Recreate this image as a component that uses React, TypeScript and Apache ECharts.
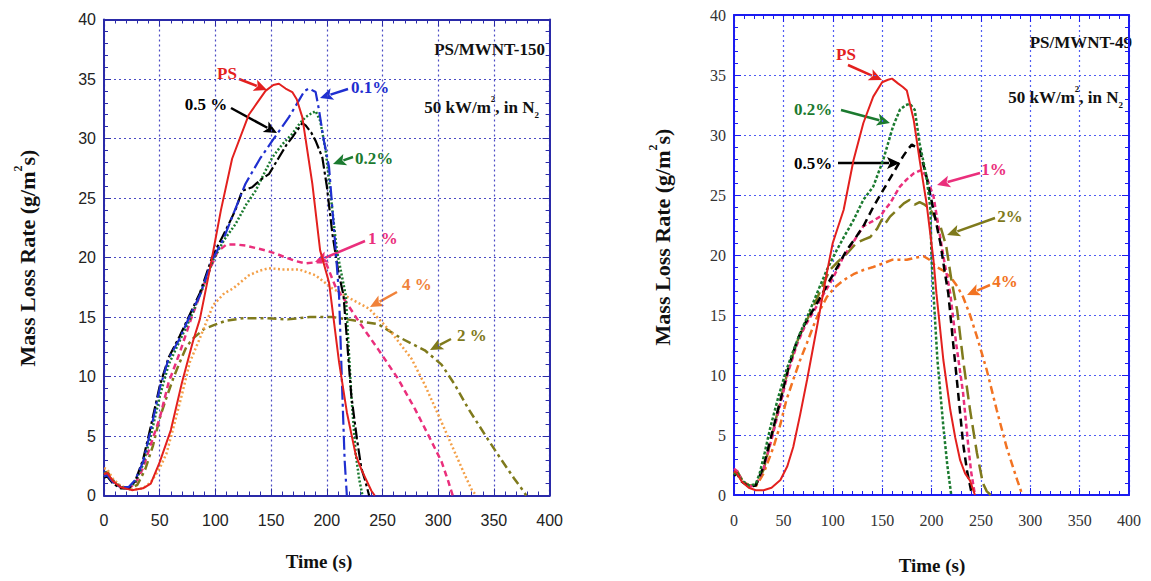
import React, { useEffect, useRef } from "react";
import * as echarts from "echarts";

// ---------- Data: left panel (PS/MWNT-150) ----------
const L_PS = [[0,1.8],[3,1.9],[8,1.2],[15,0.7],[25,0.45],[35,0.6],[42,1.0],[50,2.8],[60,5.5],[70,9.5],[80,13],[86,14.8],[95,19],[105,24],[115,28.3],[130,32],[145,34],[152,34.5],[157,34.6],[163,34.2],[169,33.9],[173,33.3],[178,31.8],[187,26.2],[194,20.6],[202,17.9],[211,11.2],[218,7],[226,3.4],[231,2.2],[235,1.4],[240,0.4],[243,0]];
const L_01 = [[0,1.6],[3,1.7],[8,1.1],[15,0.7],[22,0.7],[28,1.3],[35,2.8],[42,5.5],[50,9],[58,11.5],[68,13.2],[78,15.3],[86,16.8],[97,19.8],[107,21.5],[115,23.4],[127,26.2],[140,28.3],[151,29.8],[160,31],[166,31.8],[175,33.2],[180,34],[184,34.2],[190,33.9],[193,32.4],[197,30],[202,27.6],[208,20.6],[211,16.8],[214,8.4],[216,3],[218,0]];
const L_05 = [[0,1.5],[3,1.6],[8,1.0],[15,0.6],[22,0.6],[28,1.2],[35,3],[42,5.8],[50,9.2],[58,11.6],[68,13.4],[78,15.4],[86,17],[97,20],[105,21.5],[112,22.8],[118,24],[124,25.6],[133,25.9],[140,26.5],[148,27],[157,28.4],[164,29.5],[169,30.1],[175,30.9],[178,31.3],[181,31.1],[186,30.5],[190,29.8],[196,28.4],[200,26],[205,22],[210,19],[215,16.8],[222,8.4],[227,4.8],[231,2.3],[234,1.4],[238,0]];
const L_02 = [[0,1.6],[3,1.8],[8,1.2],[15,0.7],[22,0.6],[28,1.1],[35,2.6],[42,5],[50,8.3],[58,11],[68,13],[78,15],[88,17.3],[98,19.8],[108,21.5],[118,22.8],[128,24.5],[136,25.6],[145,27.3],[151,28.4],[160,29.5],[169,30.4],[176,31.3],[181,31.8],[186,32.1],[190,32.3],[194,31.5],[199,29],[204,24.8],[209,20.6],[217,16.8],[222,8.4],[226,3.5],[229,1.4],[232,0]];
const L_1 = [[0,1.6],[3,1.8],[8,1.2],[15,0.7],[22,0.6],[28,1.0],[35,2.3],[42,4.3],[50,6.5],[58,9.5],[68,12],[78,14.8],[86,16.8],[95,19],[102,20.5],[110,21.1],[118,21.1],[127,21],[136,20.8],[145,20.6],[155,20.3],[163,20],[172,19.7],[181,19.5],[190,19.6],[199,19.6],[208,17.5],[217,16.3],[231,14.3],[246,12.3],[264,9.8],[279,7.3],[291,5.1],[303,2.85],[309,1.2],[313,0]];
const L_4 = [[0,2.3],[3,2.2],[8,1.4],[15,0.8],[25,0.5],[35,0.6],[42,1.1],[50,2.3],[56,3.5],[62,5.6],[70,8.5],[77,11.2],[86,13.2],[98,16],[108,17],[116,17.4],[130,18.5],[140,18.9],[148,19.1],[160,19],[175,19],[190,18.5],[205,17.4],[222,16.5],[238,15.7],[258,13.7],[276,11.5],[288,9.3],[300,6.8],[312,4.25],[324,1.7],[330,0.5],[334,0]];
const L_2 = [[0,1.8],[3,2],[8,1.3],[15,0.7],[22,0.5],[30,0.9],[37,2.2],[44,4.2],[50,6.5],[56,8.2],[62,9.8],[68,11.2],[74,12.5],[80,13.2],[90,14],[98,14.3],[110,14.7],[125,14.9],[145,14.9],[165,14.8],[185,15],[205,15],[225,14.7],[246,14.4],[267,13.2],[288,12.2],[303,11],[315,9.3],[327,7.3],[342,5.1],[356,3.1],[368,1.45],[377,0.3],[379,0]];

// ---------- Data: right panel (PS/MWNT-49) ----------
const R_PS = [[0,2],[3,1.8],[8,1.1],[15,0.6],[22,0.4],[30,0.4],[38,0.6],[47,1.25],[54,2.4],[60,4],[67,6.7],[74,9.6],[84,14],[94,18.5],[100,21],[111,23.75],[121,27.9],[131,31],[141,33.2],[150,34.4],[156,34.6],[160,34.7],[166,34.3],[171,34],[175,33.7],[182,31.25],[188,27.9],[195,24.3],[202,19.6],[205,16.8],[212,11.25],[219,7.1],[224,4.8],[229,2.9],[234,1.8],[239,1.2],[244,0]];
const R_02 = [[0,1.7],[3,1.9],[8,1.2],[15,0.8],[22,0.9],[26,1.8],[31,3.5],[37,5.7],[45,8.2],[53,10.4],[60,12],[67,13.5],[74,14.8],[80,16],[87,17.4],[94,18.75],[104,20.4],[112,21.6],[121,22.9],[131,24.6],[141,25.7],[146,26.8],[151,27.9],[156,29.3],[161,30.7],[168,32.1],[174,32.5],[178,32.6],[183,32.1],[188,29.3],[195,26.5],[199,23.75],[200,19.6],[202,16.8],[206,11.25],[212,5.7],[216,2.5],[220,0]];
const R_05 = [[0,1.6],[3,1.8],[8,1.1],[15,0.7],[22,0.8],[30,2.4],[38,5],[47,7.9],[55,10.6],[64,12.9],[72,14.3],[80,15.4],[89,16.7],[97,17.9],[106,19.2],[114,20.4],[122,21.3],[131,22.4],[141,24],[151,25.4],[161,26.8],[171,28.2],[176,28.8],[180,29.2],[184,29],[188,28.75],[195,26.5],[202,23.75],[209,21],[213,18.8],[217,16.8],[222,12.6],[227,8.5],[232,4.3],[236,2],[241,0]];
const R_1 = [[0,2.2],[3,2],[8,1.2],[15,0.7],[22,0.8],[30,2.2],[38,4.6],[47,7.6],[55,10.3],[64,12.6],[72,14.1],[80,15.2],[89,16.5],[97,17.6],[104,18.7],[111,19.9],[118,20.7],[124,21.5],[131,22.4],[140,22.8],[148,23.2],[153,23.8],[158,24.3],[163,25],[168,25.7],[175,26.3],[182,26.8],[190,27.1],[195,26.5],[202,24.9],[207,22.4],[212,19.9],[219,16.8],[225,12.6],[232,8.5],[237,4.3],[240,2],[244,0]];
const R_2 = [[0,1.8],[3,2],[8,1.3],[15,0.8],[22,0.8],[30,2.1],[38,4.8],[47,7.9],[56,10.8],[65,13],[74,14.6],[82,16],[90,17.5],[97,18.75],[106,19.5],[114,20.1],[124,21],[132,21.3],[138,21.5],[145,22.2],[150,23],[153,22.6],[158,23.2],[165,23.75],[172,24.3],[178,24.6],[183,24.2],[188,24.4],[193,24.2],[199,23.75],[209,22.4],[215,20.7],[220,18],[226,15.4],[232,11.25],[239,7.1],[246,3.5],[252,1],[256,0.3],[260,0]];
const R_4 = [[0,1.7],[3,2],[8,1.2],[15,0.8],[22,0.7],[30,1.8],[40,4],[47,5.9],[53,7.9],[60,9.6],[67,11.25],[74,12.7],[80,14],[87,15.4],[94,16.5],[102,17.3],[111,17.9],[121,18.4],[131,18.75],[141,19],[151,19.3],[160,19.6],[175,19.6],[185,19.8],[192,19.9],[198,19.6],[205,19],[212,18.7],[219,18.2],[226,17.4],[232,16.5],[239,15],[246,13.2],[256,10.4],[266,7.1],[276,4],[283,2.2],[287,1.2],[292,0]];

const X_MIN = 0, X_MAX = 400, X_STEP = 50;
const Y_MIN = 0, Y_MAX = 40, Y_STEP = 5;

const RED = "#e3201e", BLUE = "#1f2fd0", BLACK = "#000000", GREEN = "#1b7a2f",
  PINK = "#ea2f7c", ORANGE_L = "#f4a048", ORANGE_R = "#f27322", OLIVE = "#7f7a1c";

const SERIF = '"Liberation Serif", "Times New Roman", serif';
const SANS = '"Liberation Sans", Arial, sans-serif';

function axes(grid: number, frame: string, gridLine: string, labelFont: string, labelColor: string) {
  const common = {
    gridIndex: grid, type: "value", min: X_MIN, max: X_MAX, interval: X_STEP,
    axisLine: { show: true, onZero: false, lineStyle: { color: frame, width: 2 } },
    axisTick: { show: true, inside: true, length: 7, lineStyle: { color: frame, width: 1 } },
    minorTick: { show: true, splitNumber: 5, length: 4, lineStyle: { color: frame, width: 1 } },
  };
  const x = [
    { ...common, position: "bottom",
      splitLine: { show: true, lineStyle: { color: gridLine, type: [2, 3], width: 1.2 } },
      axisLabel: { margin: 17, fontFamily: labelFont, fontSize: 16, color: labelColor } },
    { ...common, position: "top", splitLine: { show: false }, axisLabel: { show: false } },
  ];
  const ycommon = { ...common, min: Y_MIN, max: Y_MAX, interval: Y_STEP };
  const y = [
    { ...ycommon, position: "left",
      splitLine: { show: true, lineStyle: { color: gridLine, type: [2, 3], width: 1.2 } },
      axisLabel: { margin: 8, fontFamily: labelFont, fontSize: 16, color: labelColor } },
    { ...ycommon, position: "right", splitLine: { show: false }, axisLabel: { show: false } },
  ];
  return { x, y };
}

function line(name: string, data: number[][], axis: number, color: string, type: any, width: number) {
  return {
    name, type: "line", data, xAxisIndex: axis, yAxisIndex: axis, showSymbol: false, symbol: "none",
    lineStyle: { color, width, type }, silent: true,
  };
}

function arrow(x1: number, y1: number, x2: number, y2: number, color: string) {
  const a = Math.atan2(y2 - y1, x2 - x1);
  const L = 13, W = 6;
  const c = Math.cos(a), s = Math.sin(a);
  const bx = x2 - L * c, by = y2 - L * s;
  return [
    { type: "line", shape: { x1, y1, x2: bx + 2 * c, y2: by + 2 * s }, style: { stroke: color, lineWidth: 2.5 } },
    { type: "polygon", shape: { points: [[x2, y2], [bx - W * s, by + W * c], [bx + 3 * c, by + 3 * s], [bx + W * s, by - W * c]] }, style: { fill: color } },
  ];
}

function label(text: string, x: number, y: number, color: string, align = "center", size = 17) {
  return { type: "text", x, y, style: { text, fill: color, font: `bold ${size}px ${SERIF}`, align, verticalAlign: "middle" } };
}

const rich = (size: number) => ({
  a: { fontFamily: SERIF, fontWeight: "bold", fontSize: size, lineHeight: size + 8, fill: "#111", color: "#111" },
  sup: { fontFamily: SERIF, fontWeight: "bold", fontSize: Math.round(size * 0.55), lineHeight: size + 8, verticalAlign: "top", fill: "#111", color: "#111" },
  sub: { fontFamily: SERIF, fontWeight: "bold", fontSize: Math.round(size * 0.55), lineHeight: size + 8, verticalAlign: "bottom", fill: "#111", color: "#111" },
});

function richText(text: string, x: number, y: number, size: number, align: string, rotation = 0) {
  return { type: "text", x, y, rotation, style: { text, rich: rich(size), align, verticalAlign: "middle" } };
}

export default function App() {
  const ref = useRef<HTMLDivElement>(null);
  useEffect(() => {
    if (!ref.current) return;
    const chart = echarts.init(ref.current, null, { renderer: "svg" });
    const A = axes(0, "#2a2aa8", "#4b4bc4", SANS, "#222");
    const B = axes(1, "#1c1cf0", "#4f5cf2", SERIF, "#333");
    const graphics: any[] = [
      // Left panel annotations
      label("PS", 227, 73, RED), ...arrow(239, 79, 267, 90, RED),
      label("0.1%", 351, 87, BLUE, "left"), ...arrow(348, 89, 320, 98, BLUE),
      label("0.5 %", 206, 104, BLACK), ...arrow(231, 108, 277, 133, BLACK),
      label("0.2%", 355, 158, GREEN, "left"), ...arrow(353, 157, 333, 164, GREEN),
      label("1 %", 368, 238, PINK, "left"), ...arrow(365, 241, 315, 262, PINK),
      label("4 %", 402, 284, "#f0823a", "left"), ...arrow(397, 292, 370, 307, "#f0823a"),
      label("2 %", 457, 335, OLIVE, "left"), ...arrow(451, 339, 430, 350, OLIVE),
      label("PS/MWNT-150", 545, 49, "#111", "right", 17),
      richText("{a|50 kW/m}{sup|2}{a|, in N}{sub|2}", 539, 107, 17, "right"),
      richText("{a|Mass Loss Rate (g/m}{sup|2}{a|s)}", 27, 258, 22, "center", Math.PI / 2),
      { type: "text", x: 319, y: 561, style: { text: "Time (s)", fill: "#111", font: `bold 19px ${SERIF}`, align: "center", verticalAlign: "middle" } },
      // Right panel annotations
      label("PS", 846, 54, RED), ...arrow(848, 65, 882, 80, RED),
      label("0.2%", 813, 109, GREEN), ...arrow(841, 110, 890, 123, GREEN),
      label("0.5%", 813, 163, BLACK), ...arrow(838, 163, 900, 163, BLACK),
      label("1%", 994, 169, PINK), ...arrow(980, 173, 937, 185, PINK),
      label("2%", 1010, 216, OLIVE), ...arrow(995, 218, 947, 235, OLIVE),
      label("4%", 1005, 281, ORANGE_R), ...arrow(990, 285, 967, 295, ORANGE_R),
      label("PS/MWNT-49", 1132, 42, "#111", "right", 17),
      richText("{a|50 kW/m}{sup|2}{a|, in N}{sub|2}", 1123, 97, 17, "right"),
      richText("{a|Mass Loss Rate (g/m}{sup|2}{a|s)}", 662, 237, 22, "center", Math.PI / 2),
      { type: "text", x: 932, y: 565, style: { text: "Time (s)", fill: "#111", font: `bold 19px ${SERIF}`, align: "center", verticalAlign: "middle" } },
    ];
    chart.setOption({
      animation: false,
      backgroundColor: "#ffffff",
      grid: [
        { left: 104, top: 19.5, width: 445.6, height: 476 },
        { left: 734, top: 15, width: 395, height: 480 },
      ],
      xAxis: [...A.x, ...B.x],
      yAxis: [...A.y, ...B.y],
      series: [
        line("L 2%", L_2, 0, OLIVE, [9, 4, 3, 4], 2.5),
        line("L 4%", L_4, 0, ORANGE_L, [2, 2.5], 2.5),
        line("L 1%", L_1, 0, PINK, [6, 4], 2.5),
        line("L 0.2%", L_02, 0, GREEN, [2, 2], 2.5),
        line("L 0.5%", L_05, 0, BLACK, [12, 3, 3, 3], 2.2),
        line("L 0.1%", L_01, 0, BLUE, [14, 4, 3, 4], 2.2),
        line("L PS", L_PS, 0, RED, "solid", 2),
        line("R 4%", R_4, 2, ORANGE_R, [8, 4, 3, 4], 2.5),
        line("R 2%", R_2, 2, OLIVE, [14, 6], 2.5),
        line("R 1%", R_1, 2, PINK, [5, 3], 2.5),
        line("R 0.5%", R_05, 2, BLACK, [8, 5], 2.5),
        line("R 0.2%", R_02, 2, GREEN, [3, 2], 2.5),
        line("R PS", R_PS, 2, RED, "solid", 2),
      ],
      graphic: graphics,
    });
    return () => chart.dispose();
  }, []);
  return <div ref={ref} style={{ position: "fixed", left: 0, top: 0, width: 1151, height: 581, background: "#fff" }} />;
}
